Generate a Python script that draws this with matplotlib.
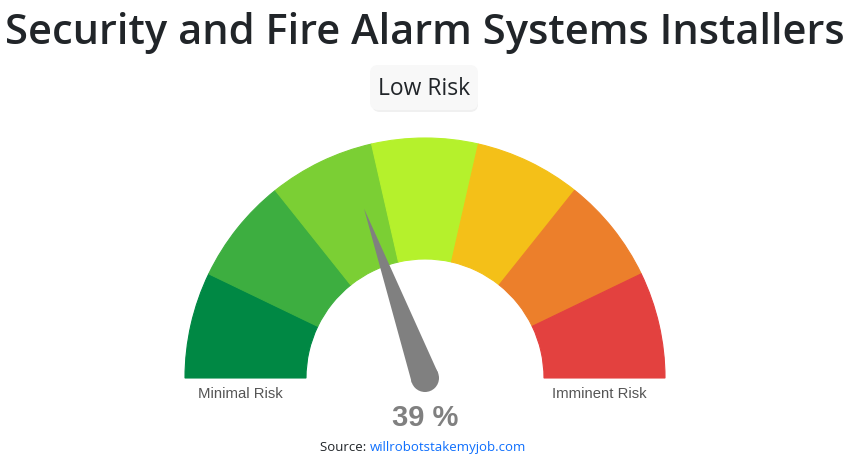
import matplotlib.pyplot as plt
from matplotlib.patches import Wedge, Circle, Polygon, FancyBboxPatch
import numpy as np

title = 'Security and Fire Alarm Systems Installers'
risk_label = 'Low Risk'
value = 39  # percent
band_colors = ['#008844', '#3dae40', '#7bcf34', '#b5f12c',
               '#f4c018', '#ec7f2b', '#e3413f']
band_edges = np.linspace(0, 100, len(band_colors) + 1)
left_label = 'Minimal Risk'
right_label = 'Imminent Risk'

W, H = 848, 465
fig = plt.figure(figsize=(W / 100, H / 100), dpi=100)
ax = fig.add_axes([0, 0, 1, 1])
ax.set_xlim(0, W)
ax.set_ylim(H, 0)
ax.axis('off')

cx, cy = 425, 378
r_out, r_in = 240, 119


def pct_to_deg(p):
    return 180 - p * 1.8


# gauge bands (y axis is flipped, so angles are negated)
for i, col in enumerate(band_colors):
    a0 = pct_to_deg(band_edges[i + 1])
    a1 = pct_to_deg(band_edges[i])
    ax.add_patch(Wedge((cx, cy), r_out, -a1, -a0, width=r_out - r_in,
                       facecolor=col, edgecolor=col, lw=0.8))

# needle
ang = np.deg2rad(pct_to_deg(value))
tip_len = 180
base_w = 14
tip = (cx + tip_len * np.cos(ang), cy - tip_len * np.sin(ang))
perp = np.array([np.sin(ang), np.cos(ang)])
b1 = np.array([cx, cy]) + perp * base_w
b2 = np.array([cx, cy]) - perp * base_w
ax.add_patch(Polygon([tip, b1, b2], closed=True, facecolor='#808080',
                     edgecolor='none'))
ax.add_patch(Circle((cx, cy), base_w, facecolor='#808080', edgecolor='none'))

# end labels
ax.text(240, 394, left_label, ha='center', va='center', fontsize=10.7,
        color='#555555', family='Liberation Sans')
ax.text(599, 394, right_label, ha='center', va='center', fontsize=10.7,
        color='#555555', family='Liberation Sans')

# value
ax.text(425, 418, f'{value} %', ha='center', va='center', fontsize=21,
        fontweight='bold', color='#808080', family='Liberation Sans')

# title
ax.text(425, 33, title, ha='center', va='center', fontsize=30,
        fontweight='semibold', color='#212529', family='Open Sans')

# risk badge
ax.add_patch(FancyBboxPatch((372, 68), 106, 44,
                            boxstyle='round,pad=0,rounding_size=8',
                            facecolor='#e6e6e6', edgecolor='none', alpha=0.6))
ax.add_patch(FancyBboxPatch((370, 65), 108, 45,
                            boxstyle='round,pad=0,rounding_size=8',
                            facecolor='#f8f8f8', edgecolor='none'))
ax.text(424, 89, risk_label, ha='center', va='center', fontsize=16.5,
        fontweight='medium', color='#212529', family='Open Sans')

# source line
ax.text(370, 447, 'Source: ', ha='right', va='center', fontsize=9.5,
        color='#212529', family='Open Sans')
ax.text(370, 447, 'willrobotstakemyjob.com', ha='left', va='center',
        fontsize=9.5, color='#0d6efd', family='Open Sans')

fig.savefig('out.png', dpi=100)
